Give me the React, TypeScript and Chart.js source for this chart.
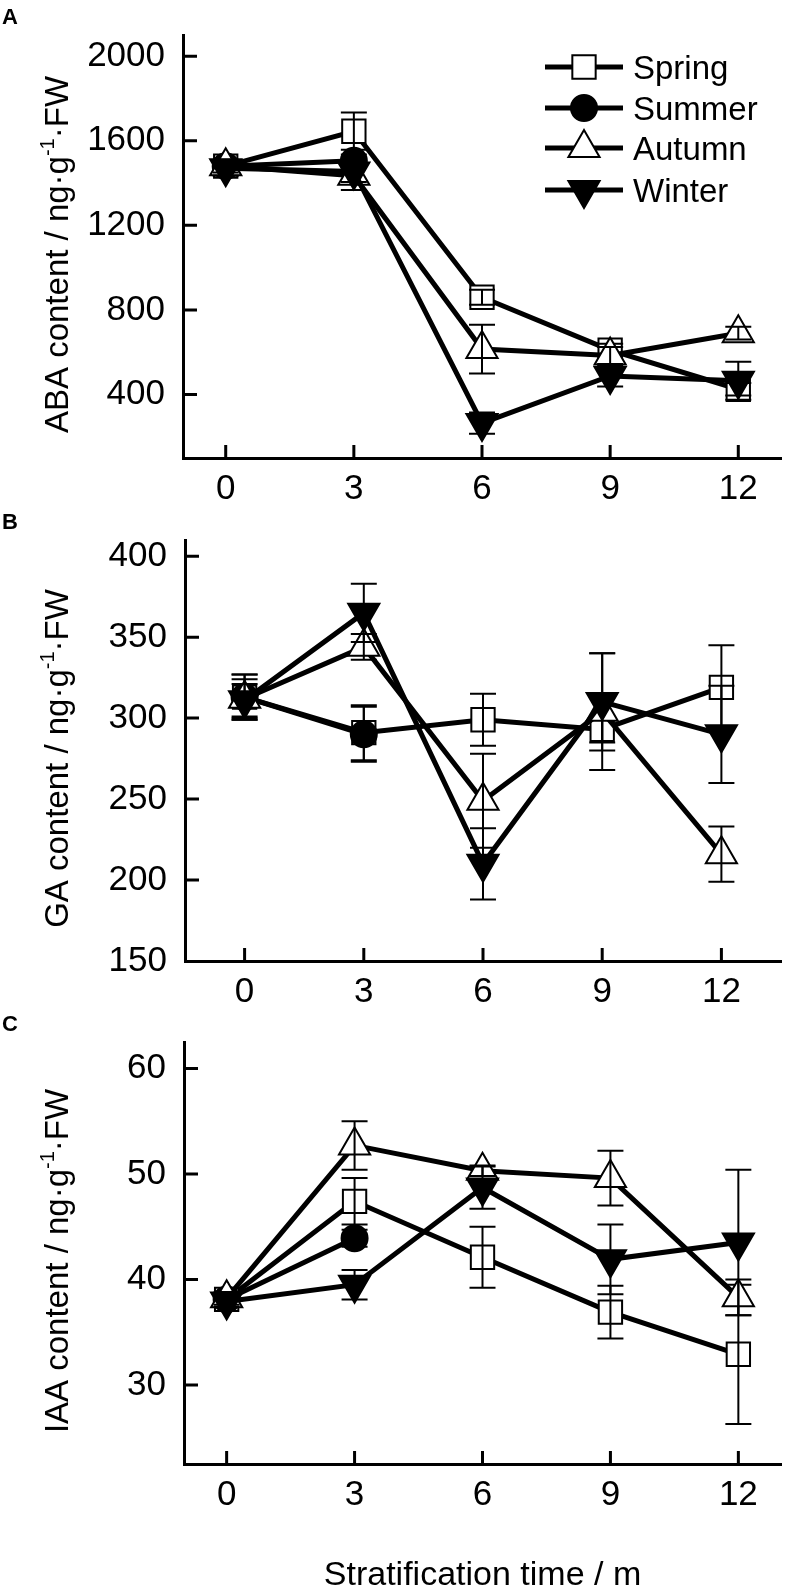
import { useEffect, useRef } from "react";
import { Chart, registerables } from "chart.js";
import { drawPoint } from "chart.js/helpers";

Chart.register(...registerables);

const FONT = "'Liberation Sans', Arial, Helvetica, sans-serif";

// stratification time (months)
const months = [0, 3, 6, 9, 12];
const seasons = ["Spring", "Summer", "Autumn", "Winter"];

// ABA content / ng·g-1·FW
const abaSpring = [1480, 1645, 860, 610, 425];
const abaSummer = [1480, 1505, null, null, null];
const abaAutumn = [1480, 1435, 615, 585, 690];
const abaWinter = [1470, 1455, 265, 488, 465];
const abaSpringErr = [25, 88, 35, 30, 30];
const abaSummerErr = [25, 30, 0, 0, 0];
const abaAutumnErr = [30, 68, 115, 40, 30];
const abaWinterErr = [35, 50, 50, 50, 90];
const abaTicks = [400, 800, 1200, 1600, 2000];

// GA content / ng·g-1·FW
const gaSpring = [313, 291, 299, 293, 319];
const gaSummer = [313, 290, null, null, null];
const gaAutumn = [312, 344, 249, 304, 216];
const gaWinter = [311, 365, 210, 310, 290];
const gaSpringErr = [14, 17, 16, 8, 26];
const gaSummerErr = [14, 17, 0, 0, 0];
const gaAutumnErr = [12, 8, 29, 36, 17];
const gaWinterErr = [10, 18, 22, 30, 30];
const gaTicks = [150, 200, 250, 300, 350, 400];

// IAA content / ng·g-1·FW
const iaaSpring = [38.1, 47.4, 42.1, 36.9, 32.9];
const iaaSummer = [38.1, 43.9, null, null, null];
const iaaAutumn = [38.2, 52.7, 50.3, 49.6, 38.3];
const iaaWinter = [37.9, 39.5, 48.7, 41.9, 43.5];
const iaaSpringErr = [0.5, 2.2, 2.9, 2.5, 6.6];
const iaaSummerErr = [0.5, 0.8, 0, 0, 0];
const iaaAutumnErr = [0.6, 2.3, 0.5, 2.6, 1.7];
const iaaWinterErr = [0.5, 1.4, 2.0, 3.3, 6.9];
const iaaTicks = [30, 40, 50, 60];

const markers = [
  { style: "rect", radius: 16.5, fill: "#ffffff", rotation: 0 },
  { style: "circle", radius: 13, fill: "#000000", rotation: 0 },
  { style: "triangle", radius: 18, fill: "#ffffff", rotation: 0 },
  { style: "triangle", radius: 18, fill: "#000000", rotation: 180 },
];

type Area = { top: number; bottom: number; left: number; right: number };

type PanelProps = {
  top: number;
  height: number;
  letter: string;
  yTitle: string;
  values: (number | null)[][];
  errors: number[][];
  yMin: number;
  yMax: number;
  yTicks: number[];
  xMin: number;
  xMax: number;
  area: Area;
  legend?: boolean;
  xTitle?: string;
};

function Panel(p: PanelProps) {
  const ref = useRef<HTMLCanvasElement>(null);

  useEffect(() => {
    if (!ref.current) return;
    const W = 801;

    const datasets = p.values.map((vals, k) => ({
      label: seasons[k],
      data: months
        .map((m, i) => (vals[i] == null ? null : { x: m, y: vals[i] }))
        .filter((d) => d !== null),
      borderColor: "#000",
      backgroundColor: "#000",
      borderWidth: 5,
      pointStyle: markers[k].style,
      pointRadius: markers[k].radius,
      pointRotation: markers[k].rotation,
      pointBackgroundColor: markers[k].fill,
      pointBorderColor: "#000",
      pointBorderWidth: 2,
      tension: 0,
      fill: false,
      order: 4 - k,
    }));

    const decor = {
      id: "decor",
      // error bars, drawn right after each series so later series sit on top
      afterDatasetDraw(chart: any, args: any) {
        const k = args.index;
        const ctx = chart.ctx;
        const xs = chart.scales.x;
        const ys = chart.scales.y;
        ctx.save();
        ctx.strokeStyle = "#000";
        ctx.lineWidth = 2;
        months.forEach((m, i) => {
          const v = p.values[k][i];
          const e = p.errors[k][i];
          if (v == null || !e) return;
          const px = xs.getPixelForValue(m);
          const t = ys.getPixelForValue(v + e);
          const b = ys.getPixelForValue(v - e);
          ctx.beginPath();
          ctx.moveTo(px, t);
          ctx.lineTo(px, b);
          ctx.moveTo(px - 13, t);
          ctx.lineTo(px + 13, t);
          ctx.moveTo(px - 13, b);
          ctx.lineTo(px + 13, b);
          ctx.stroke();
        });
        ctx.restore();
      },
      afterDraw(chart: any) {
        const ctx = chart.ctx;
        const ca = chart.chartArea;
        const xs = chart.scales.x;
        const ys = chart.scales.y;
        ctx.save();
        // inward ticks
        ctx.strokeStyle = "#000";
        ctx.lineWidth = 3;
        ctx.beginPath();
        months.forEach((m) => {
          const px = xs.getPixelForValue(m);
          ctx.moveTo(px, ca.bottom);
          ctx.lineTo(px, ca.bottom - 13);
        });
        p.yTicks.forEach((v) => {
          if (v <= p.yMin) return;
          const py = ys.getPixelForValue(v);
          ctx.moveTo(ca.left, py);
          ctx.lineTo(ca.left + 14, py);
        });
        ctx.stroke();

        // panel letter
        ctx.fillStyle = "#000";
        ctx.font = `bold 22px ${FONT}`;
        ctx.textBaseline = "alphabetic";
        ctx.textAlign = "left";
        ctx.fillText(p.letter, 2, ca.top - 11);

        // y title with superscript
        const main = `${p.yTitle} / ng·g`;
        const sup = "-1";
        const tail = "·FW";
        const big = `33px ${FONT}`;
        const small = `20px ${FONT}`;
        ctx.font = big;
        const w1 = ctx.measureText(main).width;
        const w3 = ctx.measureText(tail).width;
        ctx.font = small;
        const w2 = ctx.measureText(sup).width;
        const total = w1 + w2 + w3;
        ctx.translate(57, (ca.top + ca.bottom) / 2 + 8);
        ctx.rotate(-Math.PI / 2);
        let x0 = -total / 2;
        ctx.font = big;
        ctx.fillText(main, x0, 11);
        x0 += w1;
        ctx.font = small;
        ctx.fillText(sup, x0, -3);
        x0 += w2;
        ctx.font = big;
        ctx.fillText(tail, x0, 11);
        ctx.setTransform(chart.currentDevicePixelRatio, 0, 0, chart.currentDevicePixelRatio, 0, 0);

        // x title
        if (p.xTitle) {
          ctx.font = `34px ${FONT}`;
          ctx.textAlign = "center";
          ctx.fillText(p.xTitle, (ca.left + ca.right) / 2, p.height - 4);
        }

        // legend
        if (p.legend) {
          const rows = [67, 108, 148, 190];
          chart.data.datasets.forEach((ds: any, k: number) => {
            const y = rows[k];
            ctx.strokeStyle = "#000";
            ctx.lineWidth = 5;
            ctx.beginPath();
            ctx.moveTo(545, y);
            ctx.lineTo(623, y);
            ctx.stroke();
            ctx.fillStyle = markers[k].fill;
            ctx.lineWidth = 2;
            drawPoint(
              ctx,
              {
                pointStyle: markers[k].style,
                radius: markers[k].radius,
                rotation: markers[k].rotation,
                borderWidth: 2,
              } as any,
              584,
              y
            );
            ctx.fillStyle = "#000";
            ctx.font = `33px ${FONT}`;
            ctx.textAlign = "left";
            ctx.fillText(ds.label, 633, y + 12);
          });
        }
        ctx.restore();
      },
    };

    const chart = new Chart(ref.current, {
      type: "line",
      data: { datasets: datasets as any },
      options: {
        responsive: false,
        animation: false,
        events: [],
        layout: {
          padding: { top: p.area.top, right: W - p.area.right, left: 0, bottom: 0 },
        },
        plugins: { legend: { display: false }, tooltip: { enabled: false } },
        scales: {
          x: {
            type: "linear",
            min: p.xMin,
            max: p.xMax,
            afterBuildTicks: (s: any) => {
              s.ticks = months.map((v) => ({ value: v }));
            },
            afterFit: (s: any) => {
              s.height = p.height - p.area.bottom;
              s.paddingLeft = 0;
              s.paddingRight = 0;
            },
            grid: { display: false, drawTicks: false },
            border: { display: true, color: "#000", width: 3 },
            ticks: {
              color: "#000",
              font: { family: FONT, size: 35 },
              padding: 10,
              maxRotation: 0,
              autoSkip: false,
              callback: (v: any) => String(v),
            },
          },
          y: {
            type: "linear",
            min: p.yMin,
            max: p.yMax,
            afterBuildTicks: (s: any) => {
              s.ticks = p.yTicks.map((v) => ({ value: v }));
            },
            afterFit: (s: any) => {
              s.width = p.area.left;
              s.paddingTop = 0;
              s.paddingBottom = 0;
            },
            grid: { display: false, drawTicks: false },
            border: { display: true, color: "#000", width: 3 },
            ticks: {
              color: "#000",
              font: { family: FONT, size: 35 },
              padding: 18,
              autoSkip: false,
              callback: (v: any) => String(v),
            },
          },
        },
      } as any,
      plugins: [decor],
    });
    return () => chart.destroy();
  }, []);

  return (
    <canvas
      ref={ref}
      width={801}
      height={p.height}
      style={{ position: "absolute", left: 0, top: p.top, width: 801, height: p.height, display: "block" }}
    />
  );
}

export default function App() {
  return (
    <div style={{ position: "absolute", left: 0, top: 0, width: 801, height: 1589, background: "#fff" }}>
      <Panel
        top={0}
        height={505}
        letter="A"
        yTitle="ABA content"
        values={[abaSpring, abaSummer, abaAutumn, abaWinter]}
        errors={[abaSpringErr, abaSummerErr, abaAutumnErr, abaWinterErr]}
        yMin={100}
        yMax={2100}
        yTicks={abaTicks}
        xMin={-1}
        xMax={13}
        area={{ top: 35, bottom: 458, left: 183, right: 798 }}
        legend
      />
      <Panel
        top={505}
        height={502}
        letter="B"
        yTitle="GA content"
        values={[gaSpring, gaSummer, gaAutumn, gaWinter]}
        errors={[gaSpringErr, gaSummerErr, gaAutumnErr, gaWinterErr]}
        yMin={150}
        yMax={410}
        yTicks={gaTicks}
        xMin={-1.5}
        xMax={13.5}
        area={{ top: 35, bottom: 456, left: 185, right: 798 }}
      />
      <Panel
        top={1007}
        height={582}
        letter="C"
        yTitle="IAA content"
        values={[iaaSpring, iaaSummer, iaaAutumn, iaaWinter]}
        errors={[iaaSpringErr, iaaSummerErr, iaaAutumnErr, iaaWinterErr]}
        yMin={22.5}
        yMax={62.5}
        yTicks={iaaTicks}
        xMin={-1}
        xMax={13}
        area={{ top: 35, bottom: 457, left: 184, right: 799 }}
        xTitle="Stratification time / m"
      />
    </div>
  );
}
